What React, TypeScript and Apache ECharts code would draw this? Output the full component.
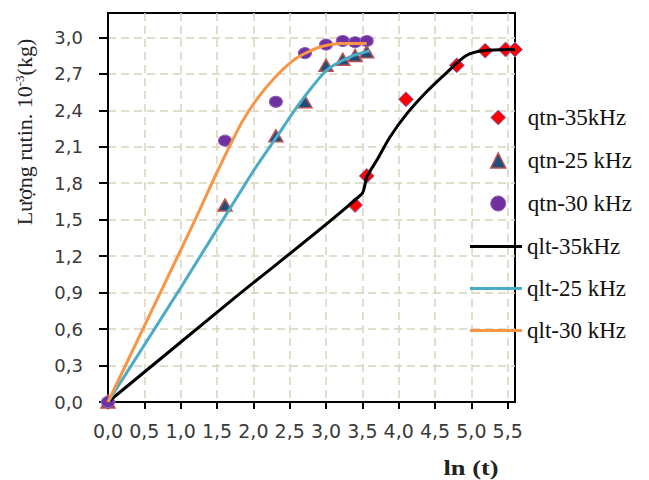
import React, { useEffect, useRef } from "react";
import * as echarts from "echarts";

// ln(t) values and measured amounts (10^-3 kg)
const lnT35 = [0, 3.4, 3.56, 4.1, 4.8, 5.19, 5.47, 5.6];
const qtn35 = [0, 1.62, 1.86, 2.49, 2.77, 2.89, 2.9, 2.9];
const lnT25 = [0, 1.61, 2.31, 2.71, 3.0, 3.23, 3.4, 3.56];
const qtn25 = [0, 1.62, 2.19, 2.47, 2.77, 2.82, 2.85, 2.88];
const lnT30 = [0, 1.61, 2.31, 2.71, 3.0, 3.23, 3.4, 3.56];
const qtn30 = [0, 2.15, 2.47, 2.87, 2.94, 2.97, 2.96, 2.97];

// fitted curves
const qlt35X = [0, 1.75, 3.49, 3.56, 3.7, 3.88, 4.11, 4.38, 4.66, 4.93, 5.16, 5.6];
const qlt35Y = [0, 0.86, 1.71, 1.85, 1.99, 2.18, 2.37, 2.55, 2.71, 2.85, 2.89, 2.9];
const qlt25X = [0, 1.0, 2.0, 2.32, 2.64, 3.01, 3.33, 3.6];
const qlt25Y = [0, 0.94, 1.9, 2.18, 2.46, 2.73, 2.84, 2.89];
const qlt30X = [0, 0.6, 1.2, 1.5, 1.86, 2.18, 2.55, 2.87, 3.19, 3.56];
const qlt30Y = [0, 0.75, 1.5, 1.89, 2.32, 2.59, 2.81, 2.91, 2.95, 2.95];

// axis ticks
const xTicks = [0, 0.5, 1, 1.5, 2, 2.5, 3, 3.5, 4, 4.5, 5, 5.5];
const yTicks = [0, 0.3, 0.6, 0.9, 1.2, 1.5, 1.8, 2.1, 2.4, 2.7, 3.0];

const names = ["qtn-35kHz", "qtn-25 kHz", "qtn-30 kHz", "qlt-35kHz", "qlt-25 kHz", "qlt-30 kHz"];

const zip = (xs: number[], ys: number[]) => xs.map((x, i) => [x, ys[i]]);
const near = (v: number, list: number[]) => list.some((t) => Math.abs(t - v) < 1e-6);

export default function App() {
  const ref = useRef<HTMLDivElement>(null);
  useEffect(() => {
    if (!ref.current) return;
    const chart = echarts.init(ref.current, null, { renderer: "svg" });
    const labelFont = "'DejaVu Sans', sans-serif";
    const serif = "'Liberation Serif', 'DejaVu Serif', serif";
    const dashed = { color: "#d9d4bc", width: 1.5, type: [8, 5] };
    const diamondStyle = { color: "#ff0000", borderColor: "#6f7fd0", borderWidth: 1, opacity: 1 };
    const triangleStyle = { color: "#1f4e79", borderColor: "#c0504d", borderWidth: 1.5, opacity: 1 };
    const circleStyle = { color: "#7030a0", borderColor: "#8a5fb8", borderWidth: 1, opacity: 1 };
    chart.setOption({
      animation: false,
      backgroundColor: "#fff",
      grid: {
        left: 108,
        top: 13,
        right: 134,
        bottom: 78,
        show: true,
        borderColor: "#000",
        borderWidth: 2,
        containLabel: false,
      },
      xAxis: {
        type: "value",
        min: 0,
        max: 5.6,
        interval: 0.5,
        axisLine: { show: true, lineStyle: { color: "#000", width: 2 } },
        axisTick: { show: true, length: 7, inside: false, customValues: xTicks, lineStyle: { color: "#000", width: 2 } },
        axisLabel: {
          customValues: xTicks,
          margin: 19,
          fontFamily: labelFont,
          fontSize: 19,
          color: "#3a3a3a",
          formatter: (v: number) => (near(v, xTicks) ? v.toFixed(1).replace(".", ",") : ""),
        },
        splitLine: { show: true, lineStyle: dashed },
      },
      yAxis: {
        type: "value",
        min: 0,
        max: 3.2,
        interval: 0.3,
        axisLine: { show: true, lineStyle: { color: "#000", width: 2 } },
        axisTick: { show: true, length: 9, inside: false, customValues: yTicks, lineStyle: { color: "#000", width: 2 } },
        axisLabel: {
          customValues: yTicks,
          margin: 25,
          fontFamily: labelFont,
          fontSize: 18,
          color: "#3a3a3a",
          formatter: (v: number) => (near(v, yTicks) ? v.toFixed(1).replace(".", ",") : ""),
        },
        splitLine: { show: true, lineStyle: dashed },
      },
      legend: [
        {
          orient: "vertical",
          left: 490,
          top: 106,
          padding: 0,
          itemWidth: 15,
          itemHeight: 15,
          itemGap: 20,
          data: [
            { name: names[0], icon: "diamond", itemStyle: diamondStyle },
            { name: names[1], icon: "triangle", itemStyle: triangleStyle },
            { name: names[2], icon: "circle", itemStyle: circleStyle },
          ],
          textStyle: { fontFamily: serif, fontSize: 23, color: "#111", padding: [0, 0, 0, 17] },
        },
        {
          orient: "vertical",
          left: 470,
          top: 235,
          padding: 0,
          itemWidth: 52,
          itemHeight: 3,
          itemGap: 19,
          icon: "rect",
          data: [names[3], names[4], names[5]],
          textStyle: { fontFamily: serif, fontSize: 23, color: "#111" },
        },
      ],
      graphic: [
        {
          type: "text",
          x: 24,
          y: 132,
          rotation: Math.PI / 2,
          style: {
            text: "Lượng rutin. 10{sup|-3}(kg)",
            fontFamily: serif,
            fontSize: 22,
            fill: "#222",
            align: "center",
            verticalAlign: "middle",
            rich: {
              sup: { fontFamily: serif, fontSize: 13, fill: "#222", verticalAlign: "top", padding: [0, 0, 8, 0] },
            },
          },
        },
        {
          type: "text",
          x: 471,
          y: 467,
          scaleX: 1.2,
          style: {
            text: "ln (t)",
            fontFamily: serif,
            fontSize: 22,
            fontWeight: "bold",
            fill: "#222",
            align: "center",
            verticalAlign: "middle",
          },
        },
      ],
      series: [
        {
          name: names[0],
          type: "scatter",
          symbol: "diamond",
          symbolSize: 15,
          data: zip(lnT35, qtn35),
          itemStyle: diamondStyle,
          z: 3,
        },
        {
          name: names[1],
          type: "scatter",
          symbol: "triangle",
          symbolSize: [14, 12],
          data: zip(lnT25, qtn25),
          itemStyle: triangleStyle,
          z: 3,
        },
        {
          name: names[2],
          type: "scatter",
          symbol: "circle",
          symbolSize: [13, 11],
          data: zip(lnT30, qtn30),
          itemStyle: circleStyle,
          z: 3,
        },
        {
          name: names[3],
          type: "line",
          data: zip(qlt35X, qlt35Y),
          showSymbol: false,
          smooth: 0.25,
          color: "#000000",
          lineStyle: { color: "#000000", width: 3 },
          z: 4,
        },
        {
          name: names[4],
          type: "line",
          data: zip(qlt25X, qlt25Y),
          showSymbol: false,
          smooth: 0.25,
          color: "#4bacc6",
          lineStyle: { color: "#4bacc6", width: 3 },
          z: 4,
        },
        {
          name: names[5],
          type: "line",
          data: zip(qlt30X, qlt30Y),
          showSymbol: false,
          smooth: 0.25,
          color: "#f79646",
          lineStyle: { color: "#f79646", width: 3 },
          z: 4,
        },
      ],
    });
    return () => chart.dispose();
  }, []);
  return (
    <div
      ref={ref}
      style={{ position: "fixed", left: 0, top: 0, width: 649, height: 480, background: "#fff" }}
    />
  );
}
